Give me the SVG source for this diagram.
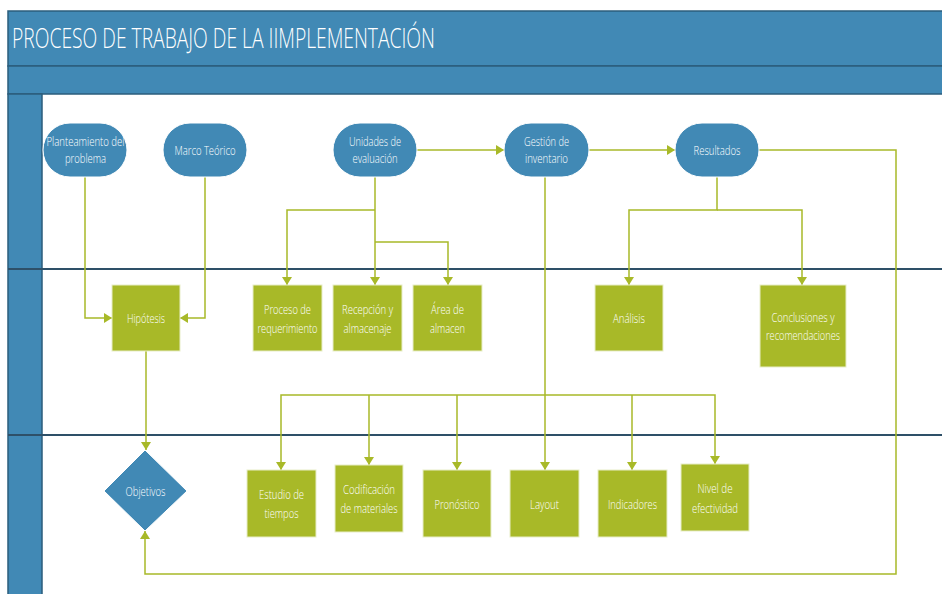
<svg xmlns="http://www.w3.org/2000/svg" width="942" height="594" viewBox="0 0 942 594">
<defs>
<style>
.band{fill:#4189b5;stroke:#2b5d7c;stroke-width:1.5}
.lane{stroke:#2e5068;stroke-width:2}
.term{fill:#4189b5;stroke:#ffffff;stroke-width:1}
.box{fill:#a8b928;stroke:#e8edc8;stroke-width:1}
.lbl{font-family:"Open Sans","Liberation Sans",sans-serif;font-size:13px;font-weight:300;fill:#ffffff;text-anchor:middle}
.title{font-family:"Open Sans","Liberation Sans",sans-serif;font-size:27px;font-weight:300;fill:#ffffff}
.conn{fill:none;stroke:#a8b928;stroke-width:1.5}
</style>
<marker id="ah2" viewBox="0 0 10 10" refX="10" refY="5" markerWidth="8" markerHeight="10" markerUnits="userSpaceOnUse" orient="auto" preserveAspectRatio="none">
<path d="M0,0 L10,5 L0,10 z" fill="#a8b928"/>
</marker>
</defs>
<rect width="942" height="594" fill="#ffffff"/>
<g id="frame">
<rect class="band" x="8" y="11" width="940" height="55"/>
<rect class="band" x="8" y="66" width="940" height="28"/>
<rect class="band" x="8" y="94" width="34" height="506"/>
<line class="lane" x1="8" y1="269" x2="942" y2="269"/>
<line class="lane" x1="8" y1="435" x2="942" y2="435"/>
<text class="title" x="12" y="48" textLength="423" lengthAdjust="spacingAndGlyphs">PROCESO DE TRABAJO DE LA IIMPLEMENTACIÓN</text>
</g>
<g id="connectors">
<path class="conn" marker-end="url(#ah2)" d="M85,177 V318 H112"/>
<path class="conn" marker-end="url(#ah2)" d="M205,177 V318 H180"/>
<path class="conn" marker-end="url(#ah2)" d="M146,351 V450"/>
<path class="conn" marker-end="url(#ah2)" d="M417,150 H504"/>
<path class="conn" marker-end="url(#ah2)" d="M589,150 H675"/>
<path class="conn" marker-end="url(#ah2)" d="M375,177 V285"/>
<path class="conn" marker-end="url(#ah2)" d="M375,210 H287 V285"/>
<path class="conn" marker-end="url(#ah2)" d="M375,242 H448 V285"/>
<path class="conn" marker-end="url(#ah2)" d="M717,177 V210 H629 V285"/>
<path class="conn" marker-end="url(#ah2)" d="M717,210 H802 V285"/>
<path class="conn" marker-end="url(#ah2)" d="M759,150 H896 V574 H145 V531"/>
<path class="conn" marker-end="url(#ah2)" d="M545,177 V470"/>
<path class="conn" marker-end="url(#ah2)" d="M545,395 H281 V470"/>
<path class="conn" marker-end="url(#ah2)" d="M369,395 V465"/>
<path class="conn" marker-end="url(#ah2)" d="M457,395 V470"/>
<path class="conn" marker-end="url(#ah2)" d="M545,395 H715 V464"/>
<path class="conn" marker-end="url(#ah2)" d="M632,395 V470"/>
</g>
<g id="planteamiento">
<rect class="term" x="43" y="123" width="84" height="54" rx="27"/>
<text class="lbl" x="85.5" y="146" textLength="78" lengthAdjust="spacingAndGlyphs">Planteamiento del</text>
<text class="lbl" x="85.5" y="163" textLength="41" lengthAdjust="spacingAndGlyphs">problema</text>
</g>
<g id="marco">
<rect class="term" x="163" y="123" width="84" height="54" rx="27"/>
<text class="lbl" x="205" y="155" textLength="61" lengthAdjust="spacingAndGlyphs">Marco Teórico</text>
</g>
<g id="unidades">
<rect class="term" x="333" y="123" width="84" height="54" rx="27"/>
<text class="lbl" x="375" y="146" textLength="52" lengthAdjust="spacingAndGlyphs">Unidades de</text>
<text class="lbl" x="375" y="163" textLength="45" lengthAdjust="spacingAndGlyphs">evaluación</text>
</g>
<g id="gestion">
<rect class="term" x="504" y="123" width="85" height="54" rx="27"/>
<text class="lbl" x="546.5" y="146" textLength="45" lengthAdjust="spacingAndGlyphs">Gestión de</text>
<text class="lbl" x="546.5" y="163" textLength="43" lengthAdjust="spacingAndGlyphs">inventario</text>
</g>
<g id="resultados">
<rect class="term" x="675" y="123" width="84" height="54" rx="27"/>
<text class="lbl" x="717" y="155" textLength="47" lengthAdjust="spacingAndGlyphs">Resultados</text>
</g>
<g id="hipotesis">
<rect class="box" x="112" y="285" width="68" height="66"/>
<text class="lbl" x="146" y="323" textLength="38" lengthAdjust="spacingAndGlyphs">Hipótesis</text>
</g>
<g id="proceso">
<rect class="box" x="253" y="285" width="69" height="66"/>
<text class="lbl" x="287.5" y="314" textLength="47" lengthAdjust="spacingAndGlyphs">Proceso de</text>
<text class="lbl" x="287.5" y="333" textLength="60" lengthAdjust="spacingAndGlyphs">requerimiento</text>
</g>
<g id="recepcion">
<rect class="box" x="333" y="285" width="69" height="66"/>
<text class="lbl" x="367.5" y="314" textLength="51" lengthAdjust="spacingAndGlyphs">Recepción y</text>
<text class="lbl" x="367.5" y="333" textLength="48" lengthAdjust="spacingAndGlyphs">almacenaje</text>
</g>
<g id="area">
<rect class="box" x="413" y="285" width="69" height="66"/>
<text class="lbl" x="447.5" y="314" textLength="33" lengthAdjust="spacingAndGlyphs">Área de</text>
<text class="lbl" x="447.5" y="333" textLength="35" lengthAdjust="spacingAndGlyphs">almacen</text>
</g>
<g id="analisis">
<rect class="box" x="595" y="285" width="68" height="66"/>
<text class="lbl" x="629" y="323" textLength="32" lengthAdjust="spacingAndGlyphs">Análisis</text>
</g>
<g id="conclusiones">
<rect class="box" x="760" y="285" width="86" height="82"/>
<text class="lbl" x="803" y="322" textLength="63" lengthAdjust="spacingAndGlyphs">Conclusiones y</text>
<text class="lbl" x="803" y="340" textLength="74" lengthAdjust="spacingAndGlyphs">recomendaciones</text>
</g>
<g id="objetivos">
<polygon class="term" points="145,450 187,491 145,531 104,491"/>
<text class="lbl" x="145.5" y="496" textLength="40" lengthAdjust="spacingAndGlyphs">Objetivos</text>
</g>
<g id="estudio">
<rect class="box" x="247" y="470" width="69" height="67"/>
<text class="lbl" x="281.5" y="499" textLength="45" lengthAdjust="spacingAndGlyphs">Estudio de</text>
<text class="lbl" x="281.5" y="518" textLength="34" lengthAdjust="spacingAndGlyphs">tiempos</text>
</g>
<g id="codificacion">
<rect class="box" x="335" y="465" width="68" height="67"/>
<text class="lbl" x="369" y="494" textLength="52" lengthAdjust="spacingAndGlyphs">Codificación</text>
<text class="lbl" x="369" y="513" textLength="57" lengthAdjust="spacingAndGlyphs">de materiales</text>
</g>
<g id="pronostico">
<rect class="box" x="423" y="470" width="68" height="67"/>
<text class="lbl" x="457" y="509" textLength="45" lengthAdjust="spacingAndGlyphs">Pronóstico</text>
</g>
<g id="layout">
<rect class="box" x="510" y="470" width="69" height="67"/>
<text class="lbl" x="544.5" y="509" textLength="29" lengthAdjust="spacingAndGlyphs">Layout</text>
</g>
<g id="indicadores">
<rect class="box" x="598" y="470" width="69" height="67"/>
<text class="lbl" x="632.5" y="509" textLength="49" lengthAdjust="spacingAndGlyphs">Indicadores</text>
</g>
<g id="nivel">
<rect class="box" x="681" y="464" width="68" height="67"/>
<text class="lbl" x="715" y="493" textLength="35" lengthAdjust="spacingAndGlyphs">Nivel de</text>
<text class="lbl" x="715" y="513" textLength="46" lengthAdjust="spacingAndGlyphs">efectividad</text>
</g>
</svg>
